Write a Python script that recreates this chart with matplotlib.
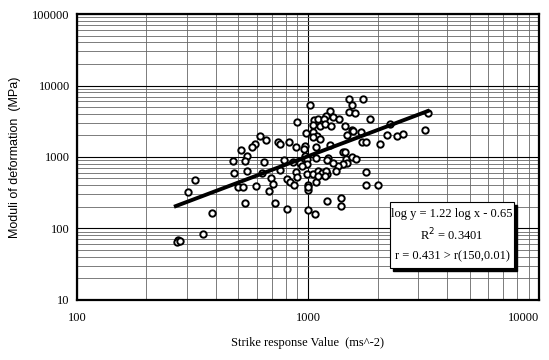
import matplotlib
matplotlib.use("Agg")
from matplotlib import pyplot as plt
from matplotlib.patches import Rectangle
import numpy as np

# strike response value (ms^-2) and moduli of deformation (MPa)
strike = [1500, 1730, 1550, 1500, 1600, 1020, 1250, 1200, 1280, 1360,
          900, 1060, 1100, 1170, 1050, 1130, 1190, 1260, 1850, 2260,
          3320, 3210, 1450, 1550, 1480, 1570, 1700, 1720, 1780, 2200,
          2430, 2580, 2050, 980, 1055, 1095, 1130, 1050, 620, 660,
          740, 757, 825, 590, 575, 515, 545, 535, 475, 645,
          887, 970, 965, 1085, 1250, 1415, 1445, 970, 995, 1085,
          1220, 1205, 1460, 1550, 1615, 1480, 1415, 1345, 1285, 787,
          860, 923, 990, 945, 755, 480, 545, 630, 887, 990,
          1050, 1110, 1145, 1205, 1195, 1320, 1785, 692, 815, 900,
          324, 302, 274, 271, 279, 350, 386, 496, 525, 534,
          595, 675, 705, 720, 810, 836, 870, 1000, 1000, 1005,
          1085, 1110, 1185, 1205, 1005, 1075, 1395, 1395, 1785, 2010]
moduli = [6470, 6470, 5330, 4260, 4060, 5330, 4350, 3740, 3620, 3400,
          3090, 3290, 3400, 3400, 2800, 2710, 2900, 2670, 3400, 2900,
          4060, 2350, 2710, 2420, 2030, 2290, 2200, 1600, 1640, 2000,
          1970, 2100, 1520, 2150, 2240, 1970, 1810, 1900, 1940, 1700,
          1640, 1520, 1640, 1500, 1370, 1240, 1030, 880, 880, 860,
          1390, 1430, 1310, 1390, 1470, 1190, 1175, 1040, 950, 960,
          960, 908, 950, 1000, 950, 820, 790, 750, 820, 920,
          855, 830, 800, 740, 650, 600, 635, 605, 615, 575,
          585, 630, 605, 575, 630, 630, 620, 515, 490, 528,
          477, 324, 69, 65, 66, 84, 166, 374, 385, 227,
          390, 330, 412, 226, 188, 440, 410, 405, 350, 375,
          445, 550, 545, 245, 182, 157, 270, 207, 405, 405]

# fitted relation log y = slope * log x + intercept
slope, intercept = 1.22, -0.65
fit_x = [268, 3300]
fit_lines = ["log y = 1.22 log x - 0.65", "R$^2$ = 0.3401", "r = 0.431 > r(150,0.01)"]

serif = ["Liberation Serif", "DejaVu Serif"]

fig, ax = plt.subplots(figsize=(5.49, 3.6), dpi=100)
fig.subplots_adjust(left=0.140, right=0.982, top=0.961, bottom=0.167)

ax.set_xscale("log")
ax.set_yscale("log")
ax.set_xlim(100, 10000)
ax.set_ylim(10, 100000)

ax.grid(True, which="major", color="black", lw=0.8)
ax.grid(True, which="minor", color="0.4", lw=0.6)
ax.set_axisbelow(True)

ax.plot(strike, moduli, "o", mfc="white", mec="black", ms=4.6, mew=1.4, zorder=3)
fx = np.array(fit_x, dtype=float)
ax.plot(fx, 10 ** (slope * np.log10(fx) + intercept), color="black", lw=2.8, zorder=4)

ax.set_xticks([100, 1000, 10000])
ax.set_xticklabels(["100", "1000", "10000"])
ax.set_yticks([10, 100, 1000, 10000, 100000])
ax.set_yticklabels(["10", "100", "1000", "10000", "100000"])
ax.tick_params(which="both", length=0)
ax.tick_params(axis="x", pad=9)
ax.tick_params(axis="y", pad=5)
for lab in ax.get_xticklabels() + ax.get_yticklabels():
    lab.set_family(serif)
    lab.set_fontsize(9)
# keep the last x label inside the figure
ax.get_xticklabels()[-1].set_horizontalalignment("right")
ax.get_xticklabels()[-1].set_x(1.0)

for s in ax.spines.values():
    s.set_linewidth(1.6)

ax.set_xlabel("Strike response Value  (ms^-2)", family=serif, fontsize=9, labelpad=9)
ax.set_ylabel("Moduli of deformation  (MPa)", family=["Liberation Sans", "DejaVu Sans"],
              fontsize=9, labelpad=8)

# equation box with drop shadow
bx, by, bw, bh = 0.677, 0.112, 0.269, 0.231
ax.add_patch(Rectangle((bx + 0.007, by - 0.011), bw, bh, transform=ax.transAxes,
                       facecolor="black", edgecolor="black", zorder=5))
ax.add_patch(Rectangle((bx, by), bw, bh, transform=ax.transAxes,
                       facecolor="white", edgecolor="black", lw=0.8, zorder=6))
for i, t in enumerate(fit_lines):
    ax.text(bx + bw / 2, by + bh * (0.82 - 0.32 * i), t, transform=ax.transAxes,
            ha="center", va="center", family=serif, fontsize=9, zorder=7)

fig.savefig("out.png", dpi=100)
